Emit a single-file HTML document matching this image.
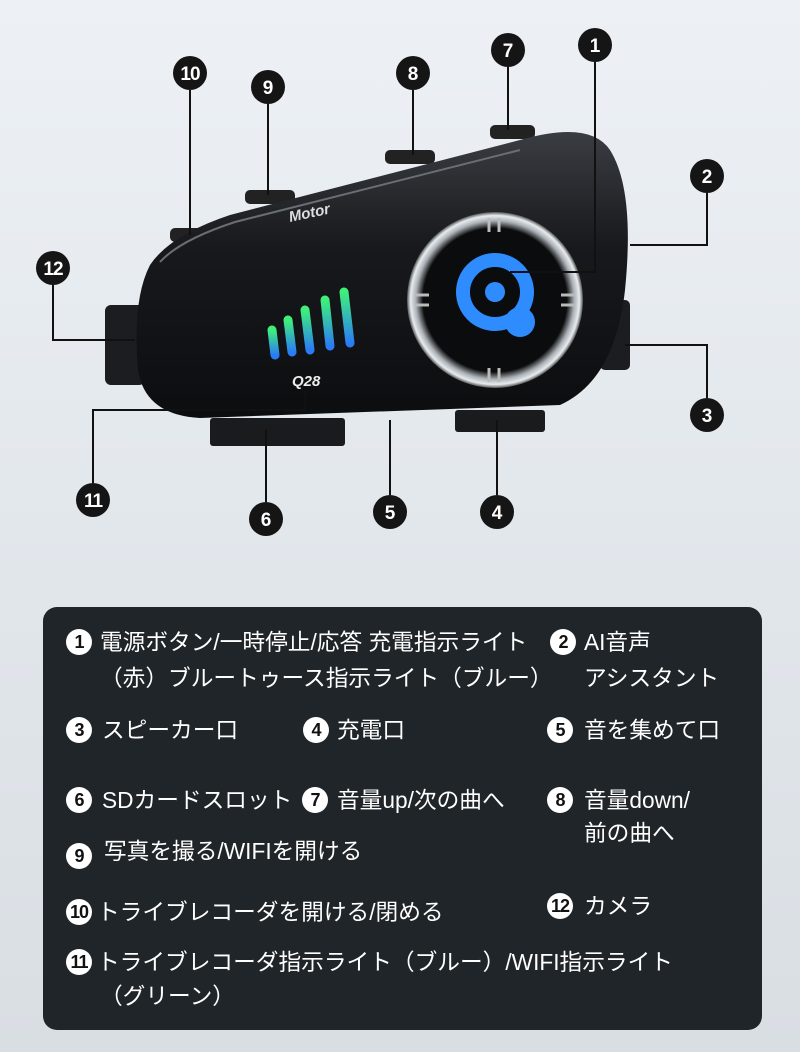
<!DOCTYPE html>
<html><head><meta charset="utf-8"><style>
html,body{margin:0;padding:0}
body{width:800px;height:1052px;position:relative;overflow:hidden;background:linear-gradient(180deg,#edf1f5 0%,#e2e7ec 50%,#d9dee3 100%);font-family:"Liberation Sans","Noto Sans CJK JP",sans-serif}
.panel{position:absolute;left:43px;top:607px;width:719px;height:423px;background:#1f2529;border-radius:14px}
.t{position:absolute;color:#fff;font-size:22.7px;white-space:nowrap;line-height:26px}
.c{position:absolute;width:26px;height:26px;border-radius:50%;background:#fff;color:#111;font-weight:bold;font-size:18px;text-align:center;line-height:26px;letter-spacing:-1px}
</style></head><body>
<svg width="800" height="600" style="position:absolute;left:0;top:0">
<defs>
<linearGradient id="bd" x1="0" y1="0" x2="0" y2="1"><stop offset="0" stop-color="#3a3d42"/><stop offset=".4" stop-color="#17191c"/><stop offset="1" stop-color="#0c0d0f"/></linearGradient>
<radialGradient id="ring" cx=".5" cy=".5" r=".5"><stop offset=".82" stop-color="#111"/><stop offset=".9" stop-color="#aab0b6"/><stop offset=".96" stop-color="#e8ecef"/><stop offset="1" stop-color="#555"/></radialGradient>
<linearGradient id="bar" x1="0" y1="1" x2="0" y2="0"><stop offset="0" stop-color="#2a7cf5"/><stop offset="1" stop-color="#3ef07a"/></linearGradient>
</defs>
<rect x="210" y="418" width="135" height="28" rx="3" fill="#1a1b1d"/>
<rect x="455" y="410" width="90" height="22" rx="3" fill="#1a1b1d"/>
<rect x="105" y="305" width="40" height="80" rx="6" fill="#1c1d20"/>
<rect x="600" y="300" width="30" height="70" rx="5" fill="#1c1d20"/>
<rect x="170" y="228" width="40" height="14" rx="5" fill="#222"/>
<rect x="245" y="190" width="50" height="14" rx="5" fill="#222"/>
<rect x="385" y="150" width="50" height="14" rx="5" fill="#222"/>
<rect x="490" y="125" width="45" height="14" rx="5" fill="#222"/>
<path d="M150 265 Q170 235 230 215 L520 140 Q590 120 610 150 Q635 190 625 290 Q615 380 560 405 L200 418 Q145 415 138 370 Q132 300 150 265Z" fill="url(#bd)"/>
<path d="M160 262 Q180 240 235 222 L520 150" stroke="#6a6e74" stroke-width="2" fill="none"/>
<text x="290" y="222" fill="#ddd" font-size="15" font-weight="bold" font-style="italic" transform="rotate(-12 290 222)" font-family="Liberation Sans">Motor</text>
<text x="292" y="386" fill="#eee" font-size="15" font-weight="bold" font-style="italic" font-family="Liberation Sans">Q28</text>
<g stroke="url(#bar)" stroke-width="9" stroke-linecap="round">
<line x1="275" y1="355" x2="272" y2="330"/><line x1="292" y1="352" x2="288" y2="320"/><line x1="310" y1="350" x2="305" y2="310"/><line x1="330" y1="346" x2="325" y2="300"/><line x1="350" y1="343" x2="344" y2="292"/>
</g>
<circle cx="495" cy="300" r="88" fill="url(#ring)"/>
<circle cx="495" cy="300" r="72" fill="#0b0c0e"/>
<g stroke="#bbb" stroke-width="3">
<line x1="489" y1="218" x2="489" y2="232"/><line x1="499" y1="218" x2="499" y2="232"/>
<line x1="489" y1="368" x2="489" y2="382"/><line x1="499" y1="368" x2="499" y2="382"/>
<line x1="415" y1="295" x2="429" y2="295"/><line x1="415" y1="305" x2="429" y2="305"/>
<line x1="561" y1="295" x2="575" y2="295"/><line x1="561" y1="305" x2="575" y2="305"/>
</g>
<circle cx="495" cy="292" r="32" fill="none" stroke="#2f8cff" stroke-width="14"/>
<circle cx="495" cy="292" r="10" fill="#2f8cff"/>
<circle cx="520" cy="322" r="15" fill="#2f8cff"/>
<g stroke="#111" stroke-width="2" fill="none">
<polyline points="595,62 595,272 510,272"/>
<polyline points="707,193 707,245 630,245"/>
<polyline points="707,398 707,345 625,345"/>
<line x1="497" y1="495" x2="497" y2="420"/>
<line x1="390" y1="495" x2="390" y2="420"/>
<line x1="266" y1="502" x2="266" y2="430"/>
<line x1="508" y1="67" x2="508" y2="130"/>
<line x1="413" y1="90" x2="413" y2="155"/>
<line x1="268" y1="104" x2="268" y2="195"/>
<line x1="190" y1="90" x2="190" y2="235"/>
<polyline points="93,483 93,410 305,410 305,390"/>
<polyline points="53,285 53,340 135,340"/>
</g>
<g fill="#151515">
<circle cx="595" cy="45" r="17"/><circle cx="707" cy="176" r="17"/><circle cx="707" cy="415" r="17"/>
<circle cx="497" cy="512" r="17"/><circle cx="390" cy="512" r="17"/><circle cx="266" cy="519" r="17"/>
<circle cx="508" cy="50" r="17"/><circle cx="413" cy="73" r="17"/><circle cx="268" cy="87" r="17"/>
<circle cx="190" cy="73" r="17"/><circle cx="93" cy="500" r="17"/><circle cx="53" cy="268" r="17"/>
</g>
<g fill="#fff" font-size="19" font-weight="bold" text-anchor="middle" font-family="Liberation Sans">
<text x="595" y="52">1</text><text x="707" y="183">2</text><text x="707" y="422">3</text>
<text x="497" y="519">4</text><text x="390" y="519">5</text><text x="266" y="526">6</text>
<text x="508" y="57">7</text><text x="413" y="80">8</text><text x="268" y="94">9</text>
<text x="190" y="80" letter-spacing="-1">10</text><text x="93" y="507" letter-spacing="-1">11</text><text x="53" y="275" letter-spacing="-1">12</text>
</g>
</svg>
<div class="panel"></div>
<div class="c" style="left:66px;top:629px">1</div><div class="t" style="left:100px;top:629px">電源ボタン/一時停止/応答 充電指示ライト</div>
<div class="t" style="left:100px;top:665px">（赤）ブルートゥース指示ライト（ブルー）</div>
<div class="c" style="left:550px;top:629px">2</div><div class="t" style="left:584px;top:629px">AI音声</div>
<div class="t" style="left:584px;top:665px">アシスタント</div>
<div class="c" style="left:66px;top:717px">3</div><div class="t" style="left:102px;top:717px">スピーカー口</div>
<div class="c" style="left:303px;top:717px">4</div><div class="t" style="left:337px;top:717px">充電口</div>
<div class="c" style="left:547px;top:717px">5</div><div class="t" style="left:584px;top:717px">音を集めて口</div>
<div class="c" style="left:66px;top:787px">6</div><div class="t" style="left:102px;top:787px">SDカードスロット</div>
<div class="c" style="left:302px;top:787px">7</div><div class="t" style="left:337px;top:787px">音量up/次の曲へ</div>
<div class="c" style="left:547px;top:787px">8</div><div class="t" style="left:584px;top:787px">音量down/</div>
<div class="t" style="left:584px;top:820px">前の曲へ</div>
<div class="c" style="left:66px;top:843px">9</div><div class="t" style="left:104px;top:838px">写真を撮る/WIFIを開ける</div>
<div class="c" style="left:66px;top:899px">10</div><div class="t" style="left:97px;top:899px">トライブレコーダを開ける/閉める</div>
<div class="c" style="left:547px;top:893px">12</div><div class="t" style="left:584px;top:893px">カメラ</div>
<div class="c" style="left:66px;top:949px">11</div><div class="t" style="left:97px;top:949px">トライブレコーダ指示ライト（ブルー）/WIFI指示ライト</div>
<div class="t" style="left:100px;top:983px">（グリーン）</div>
</body></html>
